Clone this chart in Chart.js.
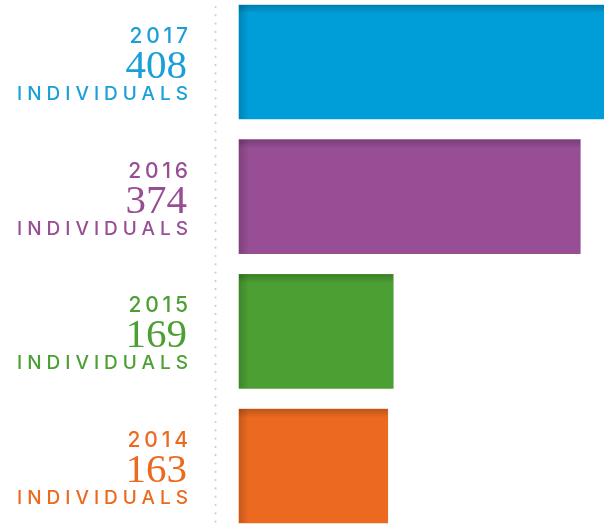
<!DOCTYPE html>
<html>
<head>
<meta charset="utf-8">
<script src="https://cdn.jsdelivr.net/npm/chart.js@4/dist/chart.umd.min.js"></script>
<style>
  html, body { margin: 0; padding: 0; background: #fff; }
  #wrap { width: 604px; height: 525px; }
</style>
</head>
<body>
<div id="wrap"><canvas id="individualsChart" width="604" height="525"></canvas></div>
<script>
const years = ['2017', '2016', '2015', '2014'];
const individuals = [408, 374, 169, 163];
const barColors = ['#009ed9', '#974e94', '#4c9f33', '#ec6a20'];
const textColors = ['#1a9fd8', '#974e94', '#4c9f33', '#ec6a20'];
const unitLabel = 'INDIVIDUALS';

document.addEventListener('DOMContentLoaded', function() {
    const ctx = document.getElementById('individualsChart').getContext('2d');

    // dotted divider between the labels and the bars
    const dividerPlugin = {
        id: 'divider',
        beforeDatasetsDraw(chart) {
            const c = chart.ctx;
            c.save();
            c.fillStyle = '#cfcfcf';
            for (let y = 7; y < chart.height; y += 8.3) {
                c.beginPath();
                c.arc(215.5, y, 1.1, 0, Math.PI * 2);
                c.fill();
            }
            c.restore();
        }
    };

    // soft inner shading on the top and left edges of each bar
    const shadePlugin = {
        id: 'shade',
        afterDatasetsDraw(chart) {
            const c = chart.ctx;
            const meta = chart.getDatasetMeta(0);
            c.save();
            meta.data.forEach(bar => {
                const top = bar.y - bar.height / 2;
                const left = bar.base;
                const right = bar.x;
                const h = bar.height;
                let g = c.createLinearGradient(0, top, 0, top + 9);
                g.addColorStop(0, 'rgba(0,0,0,0.2)');
                g.addColorStop(1, 'rgba(0,0,0,0)');
                c.fillStyle = g;
                c.fillRect(left, top, right - left, 9);
                g = c.createLinearGradient(left, 0, left + 10, 0);
                g.addColorStop(0, 'rgba(0,0,0,0.16)');
                g.addColorStop(1, 'rgba(0,0,0,0)');
                c.fillStyle = g;
                c.fillRect(left, top, 10, h);
            });
            c.restore();
        }
    };

    // year / count / "INDIVIDUALS" block to the left of each bar
    const labelPlugin = {
        id: 'sideLabels',
        afterDraw(chart) {
            const c = chart.ctx;
            const yScale = chart.scales.y;
            const xRight = 188;
            c.save();
            c.textAlign = 'right';
            c.textBaseline = 'alphabetic';
            years.forEach((yr, i) => {
                const cy = yScale.getPixelForValue(i);
                c.fillStyle = textColors[i];

                c.font = '500 21px Inter';
                c.letterSpacing = '3.8px';
                c.fillText(yr, xRight + 3.8, cy - 19);

                c.font = '41px "Liberation Serif"';
                c.letterSpacing = '0px';
                c.fillText(String(individuals[i]), xRight - 1, cy + 16);

                c.font = '500 19px Inter';
                c.letterSpacing = '5px';
                c.fillText(unitLabel, xRight + 5, cy + 38);
            });
            c.restore();
        }
    };

    new Chart(ctx, {
        type: 'bar',
        data: {
            labels: years,
            datasets: [{
                data: individuals,
                backgroundColor: barColors,
                borderWidth: 0,
                barThickness: 114,
                clip: false
            }]
        },
        options: {
            indexAxis: 'y',
            responsive: false,
            animation: false,
            layout: {
                padding: { left: 239, right: 0, top: 62, bottom: 59 }
            },
            scales: {
                x: { min: 0, max: 400, display: false },
                y: { offset: false, display: false }
            },
            plugins: {
                legend: { display: false },
                tooltip: { enabled: false }
            }
        },
        plugins: [dividerPlugin, shadePlugin, labelPlugin]
    });
});
</script>
</body>
</html>
